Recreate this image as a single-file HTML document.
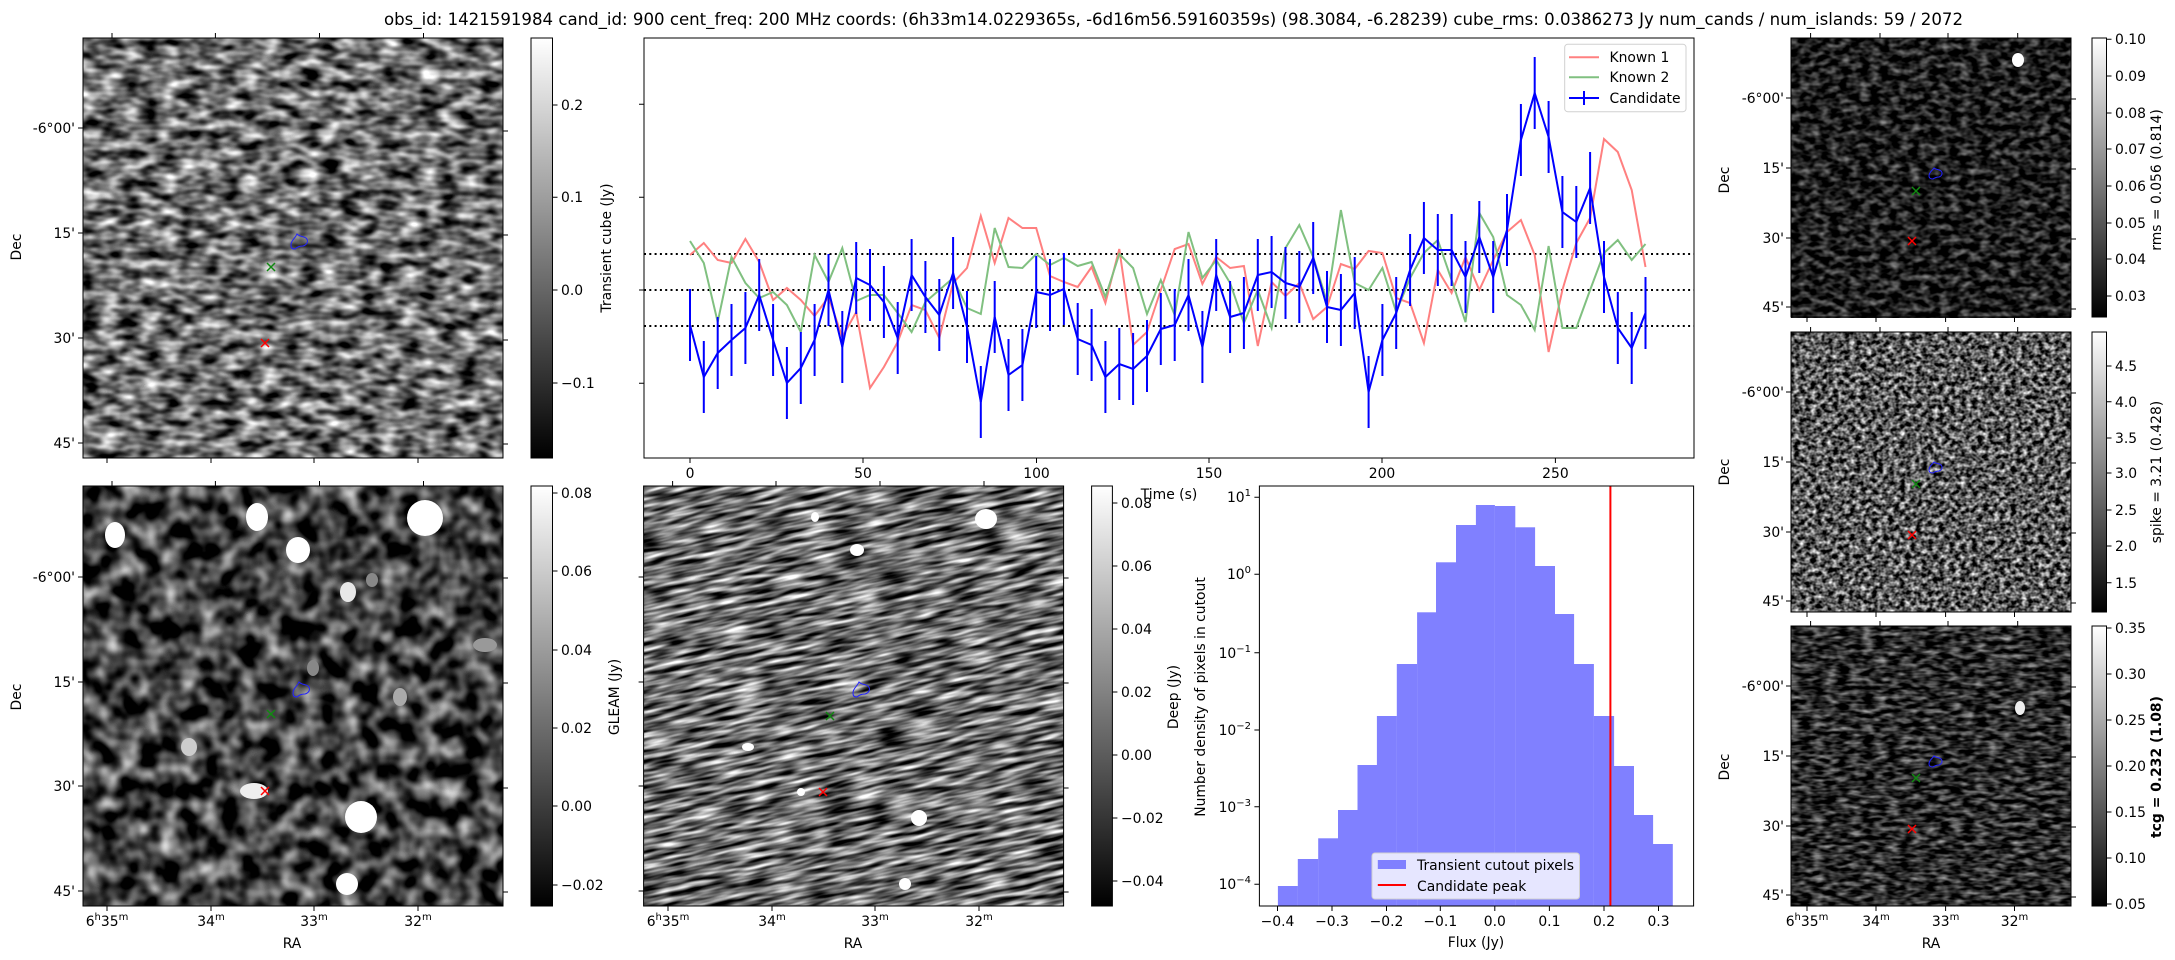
<!DOCTYPE html>
<html><head><meta charset="utf-8"><style>
html,body{margin:0;padding:0;background:#fff;width:2175px;height:960px;overflow:hidden;}
svg{display:block;font-family:"DejaVu Sans","Liberation Sans",sans-serif;}
.t{font-size:13.9px;fill:#000;}
filter{color-interpolation-filters:sRGB;}
</style></head><body>
<svg width="2175" height="960" viewBox="0 0 2175 960" xmlns="http://www.w3.org/2000/svg">
<defs>
<linearGradient id="cb" x1="0" y1="1" x2="0" y2="0"><stop offset="0" stop-color="#000"/><stop offset="1" stop-color="#fff"/></linearGradient>
<filter id="fTL" color-interpolation-filters="sRGB" x="83" y="38" width="420" height="420" filterUnits="userSpaceOnUse"><feTurbulence type="fractalNoise" baseFrequency="0.05 0.1" numOctaves="2" seed="3"/><feColorMatrix type="matrix" values="1.7 0 0 0 -0.42  1.7 0 0 0 -0.42  1.7 0 0 0 -0.42  0 0 0 0 1"/></filter>
<filter id="fGL" color-interpolation-filters="sRGB" x="83" y="486" width="420" height="420" filterUnits="userSpaceOnUse"><feTurbulence type="fractalNoise" baseFrequency="0.05" numOctaves="2" seed="7"/><feColorMatrix type="matrix" values="1.6 0 0 0 -0.55  1.6 0 0 0 -0.55  1.6 0 0 0 -0.55  0 0 0 0 1"/></filter>
<filter id="fDP" color-interpolation-filters="sRGB" x="500" y="300" width="700" height="800" filterUnits="userSpaceOnUse"><feTurbulence type="fractalNoise" baseFrequency="0.03 0.2" numOctaves="2" seed="11"/><feColorMatrix type="matrix" values="1.8 0 0 0 -0.47  1.8 0 0 0 -0.47  1.8 0 0 0 -0.47  0 0 0 0 1"/></filter>
<filter id="fP1" color-interpolation-filters="sRGB" x="1791" y="38" width="280" height="280" filterUnits="userSpaceOnUse"><feTurbulence type="fractalNoise" baseFrequency="0.1 0.16" numOctaves="2" seed="5"/><feColorMatrix type="matrix" values="1 0 0 0 -0.38  1 0 0 0 -0.38  1 0 0 0 -0.38  0 0 0 0 1"/></filter>
<filter id="fP2" color-interpolation-filters="sRGB" x="1791" y="332" width="280" height="280" filterUnits="userSpaceOnUse"><feTurbulence type="fractalNoise" baseFrequency="0.18 0.22" numOctaves="2" seed="9"/><feColorMatrix type="matrix" values="1.8 0 0 0 -0.55  1.8 0 0 0 -0.55  1.8 0 0 0 -0.55  0 0 0 0 1"/></filter>
<filter id="fP3" color-interpolation-filters="sRGB" x="1791" y="626" width="280" height="280" filterUnits="userSpaceOnUse"><feTurbulence type="fractalNoise" baseFrequency="0.08 0.22" numOctaves="2" seed="13"/><feColorMatrix type="matrix" values="1.2 0 0 0 -0.43  1.2 0 0 0 -0.43  1.2 0 0 0 -0.43  0 0 0 0 1"/></filter>
<clipPath id="cDP"><rect x="643.6" y="486" width="420" height="420"/></clipPath>
<clipPath id="cGL"><rect x="83" y="486" width="420" height="420"/></clipPath>
</defs>

<text x="1173.5" y="25" text-anchor="middle" font-size="16.7" textLength="1579" lengthAdjust="spacingAndGlyphs">obs_id: 1421591984 cand_id: 900 cent_freq: 200 MHz coords: (6h33m14.0229365s, -6d16m56.59160359s) (98.3084, -6.28239) cube_rms: 0.0386273 Jy num_cands / num_islands: 59 / 2072</text>

<!-- Top-left -->
<rect x="83" y="38" width="420" height="420" fill="#777" filter="url(#fTL)"/>
<rect x="83" y="38" width="420" height="420" fill="none" stroke="#000" stroke-width="1"/>
<path d="M112 38v-5M215.4 38v-5M319.5 38v-5M423.5 38v-5M107 458v5M211 458v5M314 458v5M418 458v5M83 128h-5M83 233h-5M83 338h-5M83 443h-5M503 131h5M503 235h5M503 340h5M503 444h5" stroke="#000"/>
<g class="t" text-anchor="end"><text x="75" y="133">-6°00'</text><text x="75" y="238">15'</text><text x="75" y="343">30'</text><text x="75" y="448">45'</text></g>
<text class="t" transform="translate(21,247) rotate(-90)" text-anchor="middle">Dec</text>
<path d="M291 245c0-5 4-6 6-11c3 3 6 2 9 4c3 3 1 7-3 8c-3 0-6 1-8 3c-3 0-4-1-4-4z" fill="none" stroke="#2222ff" stroke-width="1"/>
<path d="M267 263l8 8M275 263l-8 8" stroke="#118811" stroke-width="1.5"/>
<path d="M261 339l8 8M269 339l-8 8" stroke="#ff0000" stroke-width="1.5"/>
<rect x="531" y="38" width="21.5" height="420" fill="url(#cb)" stroke="#000" stroke-width="1"/>
<path d="M552.5 105h5M552.5 197.3h5M552.5 290h5M552.5 383h5" stroke="#000"/>
<g class="t"><text x="561" y="110">0.2</text><text x="561" y="202">0.1</text><text x="561" y="295">0.0</text><text x="561" y="388">−0.1</text></g>
<text class="t" transform="translate(611,248) rotate(-90)" text-anchor="middle">Transient cube (Jy)</text>

<!-- Light curve -->
<rect x="644" y="38" width="1050" height="420" fill="#fff" stroke="#000" stroke-width="1"/>
<path d="M644 104.3h-5M644 197.3h-5M644 290h-5M644 383.3h-5" stroke="#000"/>
<path d="M690 458v5M863 458v5M1036.5 458v5M1209 458v5M1382 458v5M1555.4 458v5" stroke="#000"/>
<g class="t" text-anchor="middle"><text x="690" y="478">0</text><text x="863" y="478">50</text><text x="1036.5" y="478">100</text><text x="1209" y="478">150</text><text x="1382" y="478">200</text><text x="1555.4" y="478">250</text></g>
<g stroke="#000" stroke-width="2" stroke-dasharray="2,3.3"><path d="M644 254h1050M644 290h1050M644 326h1050"/></g>
<polyline fill="none" stroke="#ff8080" stroke-width="2" points="690,255 703.8,243 717.7,260 731.5,263 745.4,239 759.2,262 773.1,300 786.9,288 800.8,300 814.6,316 828.5,297 842.3,337 856.2,312 870,388 883.9,367 897.7,342 911.6,305 925.4,310 939.3,338 953.1,283 967,268 980.8,216 994.7,263 1008.5,218 1022.4,228 1036.2,228 1050,276 1063.9,282 1077.7,287 1091.6,267 1105.4,303 1119.3,249 1133.1,345 1147,332 1160.8,290 1174.7,249 1188.5,244 1202.4,284 1216.2,257 1230.1,268 1243.9,266 1257.8,346 1271.6,282 1285.5,296 1299.3,283 1313.2,319 1327,307 1340.9,264 1354.7,269 1368.6,251 1382.4,253 1396.2,298 1410.1,303 1423.9,343 1437.8,270 1451.6,293 1465.5,257 1479.3,290 1493.2,260 1507,232 1520.9,220 1534.7,255 1548.6,352 1562.4,290 1576.3,243 1590.1,218 1604,139 1617.8,152 1631.7,190 1645.5,267"/>
<polyline fill="none" stroke="#80c080" stroke-width="2" points="690,241 703.8,263 717.7,322 731.5,257 745.4,283 759.2,298 773.1,292 786.9,305 800.8,332 814.6,255 828.5,282 842.3,248 856.2,301 870,295 883.9,295 897.7,313 911.6,332 925.4,302 939.3,290 953.1,278 967,308 980.8,314 994.7,228 1008.5,267 1022.4,268 1036.2,254 1050,265 1063.9,258 1077.7,266 1091.6,262 1105.4,297 1119.3,254 1133.1,268 1147,314 1160.8,280 1174.7,315 1188.5,232 1202.4,278 1216.2,260 1230.1,283 1243.9,323 1257.8,290 1271.6,328 1285.5,248 1299.3,225 1313.2,257 1327,302 1340.9,210 1354.7,283 1368.6,290 1382.4,268 1396.2,312 1410.1,278 1423.9,253 1437.8,240 1451.6,280 1465.5,322 1479.3,213 1493.2,237 1507,295 1520.9,305 1534.7,330 1548.6,246 1562.4,328 1576.3,328 1590.1,290 1604,253 1617.8,240 1631.7,260 1645.5,244"/>
<polyline fill="none" stroke="#0000ff" stroke-width="2" points="690,325 703.8,377 717.7,353 731.5,340 745.4,328 759.2,295 773.1,340 786.9,383 800.8,368 814.6,340 828.5,290 842.3,347 856.2,278 870,285 883.9,302 897.7,338 911.6,275 925.4,297 939.3,315 953.1,273 967,327 980.8,402 994.7,317 1008.5,375 1022.4,365 1036.2,292 1050,295 1063.9,289 1077.7,339 1091.6,345 1105.4,377 1119.3,364 1133.1,369 1147,356 1160.8,329 1174.7,325 1188.5,295 1202.4,347 1216.2,275 1230.1,317 1243.9,313 1257.8,275 1271.6,272 1285.5,283 1299.3,287 1313.2,258 1327,307 1340.9,310 1354.7,293 1368.6,392 1382.4,340 1396.2,313 1410.1,270 1423.9,238 1437.8,250 1451.6,250 1465.5,277 1479.3,237 1493.2,277 1507,230 1520.9,140 1534.7,93 1548.6,137 1562.4,212 1576.3,222 1590.1,188 1604,277 1617.8,328 1631.7,348 1645.5,313"/>
<path fill="none" stroke="#0000ff" stroke-width="2" d="M690 289v72M703.8 341v72M717.7 317v72M731.5 304v72M745.4 292v72M759.2 259v72M773.1 304v72M786.9 347v72M800.8 332v72M814.6 304v72M828.5 254v72M842.3 311v72M856.2 242v72M870 249v72M883.9 266v72M897.7 302v72M911.6 239v72M925.4 261v72M939.3 279v72M953.1 237v72M967 291v72M980.8 366v72M994.7 281v72M1008.5 339v72M1022.4 329v72M1036.2 256v72M1050 259v72M1063.9 253v72M1077.7 303v72M1091.6 309v72M1105.4 341v72M1119.3 328v72M1133.1 333v72M1147 320v72M1160.8 293v72M1174.7 289v72M1188.5 259v72M1202.4 311v72M1216.2 239v72M1230.1 281v72M1243.9 277v72M1257.8 239v72M1271.6 236v72M1285.5 247v72M1299.3 251v72M1313.2 222v72M1327 271v72M1340.9 274v72M1354.7 257v72M1368.6 356v72M1382.4 304v72M1396.2 277v72M1410.1 234v72M1423.9 202v72M1437.8 214v72M1451.6 214v72M1465.5 241v72M1479.3 201v72M1493.2 241v72M1507 194v72M1520.9 104v72M1534.7 57v72M1548.6 101v72M1562.4 176v72M1576.3 186v72M1590.1 152v72M1604 241v72M1617.8 292v72M1631.7 312v72M1645.5 277v72"/>
<rect x="1564.7" y="44.3" width="121.3" height="67.4" rx="3" fill="#fff" fill-opacity="0.8" stroke="#d0d0d0"/>
<path d="M1569 57.3h30" stroke="#ff8080" stroke-width="2"/>
<path d="M1569 77.3h30" stroke="#80c080" stroke-width="2"/>
<path d="M1569 98h30M1584 91v14" stroke="#0000ff" stroke-width="2"/>
<g class="t"><text x="1609.5" y="62">Known 1</text><text x="1609.5" y="82">Known 2</text><text x="1609.5" y="103">Candidate</text></g>

<!-- GLEAM -->
<rect x="83" y="486" width="420" height="420" fill="#444" filter="url(#fGL)"/>
<g clip-path="url(#cGL)" fill="#fff">
<ellipse cx="115" cy="535" rx="10" ry="13"/><ellipse cx="257" cy="517" rx="11" ry="14"/><ellipse cx="298" cy="550" rx="12" ry="13"/><ellipse cx="425" cy="518" rx="18" ry="18"/><ellipse cx="348" cy="592" rx="8" ry="10" fill="#e8e8e8"/><ellipse cx="361" cy="817" rx="16" ry="16"/><ellipse cx="347" cy="884" rx="11" ry="11"/><ellipse cx="189" cy="747" rx="8" ry="9" fill="#ccc"/><ellipse cx="254" cy="791" rx="14" ry="8" fill="#eee"/><ellipse cx="485" cy="645" rx="12" ry="7" fill="#999"/><ellipse cx="400" cy="697" rx="7" ry="9" fill="#aaa"/><ellipse cx="313" cy="668" rx="6" ry="8" fill="#888"/><ellipse cx="372" cy="580" rx="6" ry="7" fill="#888"/>
</g>
<rect x="83" y="486" width="420" height="420" fill="none" stroke="#000"/>
<path d="M112 486v-5M215.4 486v-5M319.5 486v-5M423.5 486v-5M107 906v5M211 906v5M314 906v5M418 906v5M83 577h-5M83 682h-5M83 786h-5M83 891h-5M503 578h5M503 683h5M503 788h5M503 892h5" stroke="#000"/>
<g class="t" text-anchor="end"><text x="75" y="582">-6°00'</text><text x="75" y="687">15'</text><text x="75" y="791">30'</text><text x="75" y="896">45'</text></g>
<text class="t" transform="translate(21,697) rotate(-90)" text-anchor="middle">Dec</text>
<g class="t" text-anchor="middle">
<text x="107" y="926">6<tspan font-size="10" dy="-6">h</tspan><tspan dy="6">35</tspan><tspan font-size="10" dy="-6">m</tspan></text>
<text x="211" y="926">34<tspan font-size="10" dy="-6">m</tspan></text>
<text x="314" y="926">33<tspan font-size="10" dy="-6">m</tspan></text>
<text x="418" y="926">32<tspan font-size="10" dy="-6">m</tspan></text>
<text x="292" y="948">RA</text></g>
<path d="M293 693c0-5 4-6 6-11c3 3 6 2 9 4c3 3 1 7-3 8c-3 0-6 1-8 3c-3 0-4-1-4-4z" fill="none" stroke="#2222ff"/>
<path d="M267 710l8 8M275 710l-8 8" stroke="#118811" stroke-width="1.5"/>
<path d="M261 787l8 8M269 787l-8 8" stroke="#ff0000" stroke-width="1.5"/>
<rect x="531" y="486" width="21.5" height="420" fill="url(#cb)" stroke="#000"/>
<path d="M552.5 493h5M552.5 571h5M552.5 650h5M552.5 728h5M552.5 806h5M552.5 885h5" stroke="#000"/>
<g class="t"><text x="561" y="498">0.08</text><text x="561" y="576">0.06</text><text x="561" y="655">0.04</text><text x="561" y="733">0.02</text><text x="561" y="811">0.00</text><text x="561" y="890">−0.02</text></g>
<text class="t" transform="translate(619,697) rotate(-90)" text-anchor="middle">GLEAM (Jy)</text>

<!-- Deep -->
<g clip-path="url(#cDP)">
<rect x="643.6" y="486" width="420" height="420" fill="#777"/>
<g transform="rotate(-12 853.6 696)"><rect x="500" y="300" width="700" height="800" fill="#777" filter="url(#fDP)"/></g>
<g fill="#fff"><ellipse cx="986" cy="519" rx="11" ry="10"/><ellipse cx="857" cy="550" rx="7" ry="6"/><ellipse cx="815" cy="517" rx="4" ry="5"/><ellipse cx="919" cy="818" rx="8" ry="8"/><ellipse cx="905" cy="884" rx="6" ry="6"/><ellipse cx="801" cy="792" rx="4" ry="4"/><ellipse cx="748" cy="747" rx="6" ry="4"/></g>
</g>
<rect x="643.6" y="486" width="420" height="420" fill="none" stroke="#000"/>
<path d="M672.6 486v-5M776 486v-5M880 486v-5M984 486v-5M668 906v5M772 906v5M875 906v5M979 906v5M643.6 577h-5M643.6 682h-5M643.6 786h-5M643.6 891h-5M1063.6 578h5M1063.6 683h5M1063.6 788h5M1063.6 892h5" stroke="#000"/>
<g class="t" text-anchor="middle">
<text x="668" y="926">6<tspan font-size="10" dy="-6">h</tspan><tspan dy="6">35</tspan><tspan font-size="10" dy="-6">m</tspan></text>
<text x="772" y="926">34<tspan font-size="10" dy="-6">m</tspan></text>
<text x="875" y="926">33<tspan font-size="10" dy="-6">m</tspan></text>
<text x="979" y="926">32<tspan font-size="10" dy="-6">m</tspan></text>
<text x="853" y="948">RA</text></g>
<path d="M853 693c0-5 4-6 6-11c3 3 6 2 9 4c3 3 1 7-3 8c-3 0-6 1-8 3c-3 0-4-1-4-4z" fill="none" stroke="#2222ff"/>
<path d="M826 712l8 8M834 712l-8 8" stroke="#118811" stroke-width="1.5"/>
<path d="M819 788l8 8M827 788l-8 8" stroke="#ff0000" stroke-width="1.5"/>
<rect x="1091.6" y="486" width="20.8" height="420" fill="url(#cb)" stroke="#000"/>
<path d="M1112.4 503h5M1112.4 566h5M1112.4 629h5M1112.4 692h5M1112.4 755h5M1112.4 818h5M1112.4 881h5" stroke="#000"/>
<g class="t"><text x="1121" y="508">0.08</text><text x="1121" y="571">0.06</text><text x="1121" y="634">0.04</text><text x="1121" y="697">0.02</text><text x="1121" y="760">0.00</text><text x="1121" y="823">−0.02</text><text x="1121" y="886">−0.04</text></g>
<text class="t" transform="translate(1178,697) rotate(-90)" text-anchor="middle">Deep (Jy)</text>
<text class="t" x="1169" y="499" text-anchor="middle">Time (s)</text>

<!-- Histogram -->
<g fill="#8080ff">
<rect x="1277.9" y="886" width="20" height="20"/><rect x="1297.8" y="859" width="20.5" height="47"/><rect x="1318.2" y="838.3" width="20" height="67.7"/><rect x="1338" y="810" width="19.6" height="96"/><rect x="1357.5" y="765" width="19.5" height="141"/><rect x="1376.9" y="716" width="20" height="190"/><rect x="1396.8" y="664" width="20.4" height="242"/><rect x="1417.1" y="612.3" width="19" height="293.7"/><rect x="1436" y="562.3" width="20.1" height="343.7"/><rect x="1456" y="525" width="20" height="381"/><rect x="1475.9" y="505" width="19" height="401"/><rect x="1494.8" y="506" width="20.5" height="400"/><rect x="1515.2" y="527.3" width="19.9" height="378.7"/><rect x="1535" y="566" width="20" height="340"/><rect x="1555" y="614" width="19.1" height="292"/><rect x="1574" y="664" width="19.9" height="242"/><rect x="1593.8" y="716" width="20.3" height="190"/><rect x="1614" y="766" width="20" height="140"/><rect x="1634" y="815" width="19.1" height="91"/><rect x="1653" y="844" width="19.8" height="62"/>
</g>
<path d="M1610.4 486V906" stroke="#ff0000" stroke-width="2"/>
<rect x="1259.4" y="486" width="434.2" height="420" fill="none" stroke="#000"/>
<path d="M1277.5 906v5M1332 906v5M1386.5 906v5M1440.3 906v5M1494.8 906v5M1549.4 906v5M1604 906v5M1658.5 906v5M1259.4 497.3h-5M1259.4 574.3h-5M1259.4 652.7h-5M1259.4 730h-5M1259.4 806.7h-5M1259.4 884.3h-5" stroke="#000"/>
<g class="t" text-anchor="middle"><text x="1277.5" y="926">−0.4</text><text x="1332" y="926">−0.3</text><text x="1386.5" y="926">−0.2</text><text x="1440.3" y="926">−0.1</text><text x="1494.8" y="926">0.0</text><text x="1549.4" y="926">0.1</text><text x="1604" y="926">0.2</text><text x="1658.5" y="926">0.3</text><text x="1476" y="947">Flux (Jy)</text></g>
<g class="t" text-anchor="end">
<text x="1251" y="502">10<tspan font-size="10" dy="-6">1</tspan></text>
<text x="1251" y="579">10<tspan font-size="10" dy="-6">0</tspan></text>
<text x="1251" y="658">10<tspan font-size="10" dy="-6">−1</tspan></text>
<text x="1251" y="735">10<tspan font-size="10" dy="-6">−2</tspan></text>
<text x="1251" y="812">10<tspan font-size="10" dy="-6">−3</tspan></text>
<text x="1251" y="889">10<tspan font-size="10" dy="-6">−4</tspan></text>
</g>
<text class="t" transform="translate(1205,697) rotate(-90)" text-anchor="middle">Number density of pixels in cutout</text>
<rect x="1372" y="853" width="207.5" height="46" rx="3" fill="#e6e6ff" stroke="#d0d0d0"/>
<rect x="1377.8" y="860" width="28.2" height="9" fill="#8080ff"/>
<path d="M1377.8 885h28.2" stroke="#ff0000" stroke-width="2"/>
<g class="t"><text x="1417" y="870">Transient cutout pixels</text><text x="1417" y="891">Candidate peak</text></g>

<!-- Right column -->
<rect x="1791" y="38" width="280" height="279" fill="#333" filter="url(#fP1)"/>
<ellipse cx="2018" cy="60" rx="6" ry="7" fill="#fff"/>
<rect x="1791" y="38" width="280" height="279" fill="none" stroke="#000"/>
<rect x="1791" y="332" width="280" height="280" fill="#555" filter="url(#fP2)"/>
<rect x="1791" y="332" width="280" height="280" fill="none" stroke="#000"/>
<rect x="1791" y="626" width="280" height="280" fill="#333" filter="url(#fP3)"/>
<ellipse cx="2020" cy="708" rx="5" ry="7" fill="#eee"/>
<rect x="1791" y="626" width="280" height="280" fill="none" stroke="#000"/>
<g stroke="#000">
<path d="M1810.6 38v-5M1880 38v-5M1948 38v-5M2017.7 38v-5M1807 317v5M1876 317v5M1945.6 317v5M2014.5 317v5M1791 98h-5M1791 168h-5M1791 238h-5M1791 307h-5M2071 99h5M2071 169h5M2071 239h5M2071 309h5"/>
<path d="M1810.6 332v-5M1880 332v-5M1948 332v-5M2017.7 332v-5M1807 612v5M1876 612v5M1945.6 612v5M2014.5 612v5M1791 392h-5M1791 462h-5M1791 532h-5M1791 601h-5M2071 393h5M2071 463h5M2071 533h5M2071 603h5"/>
<path d="M1810.6 626v-5M1880 626v-5M1948 626v-5M2017.7 626v-5M1807 906v5M1876 906v5M1945.6 906v5M2014.5 906v5M1791 686h-5M1791 756h-5M1791 826h-5M1791 895h-5M2071 687h5M2071 757h5M2071 827h5M2071 897h5"/>
</g>
<g class="t" text-anchor="end">
<text x="1784" y="103">-6°00'</text><text x="1784" y="173">15'</text><text x="1784" y="243">30'</text><text x="1784" y="312">45'</text>
<text x="1784" y="397">-6°00'</text><text x="1784" y="467">15'</text><text x="1784" y="537">30'</text><text x="1784" y="606">45'</text>
<text x="1784" y="691">-6°00'</text><text x="1784" y="761">15'</text><text x="1784" y="831">30'</text><text x="1784" y="900">45'</text>
</g>
<text class="t" transform="translate(1729,180) rotate(-90)" text-anchor="middle">Dec</text>
<text class="t" transform="translate(1729,472) rotate(-90)" text-anchor="middle">Dec</text>
<text class="t" transform="translate(1729,767) rotate(-90)" text-anchor="middle">Dec</text>
<g class="t" text-anchor="middle">
<text x="1807" y="926">6<tspan font-size="10" dy="-6">h</tspan><tspan dy="6">35</tspan><tspan font-size="10" dy="-6">m</tspan></text>
<text x="1876" y="926">34<tspan font-size="10" dy="-6">m</tspan></text>
<text x="1945.6" y="926">33<tspan font-size="10" dy="-6">m</tspan></text>
<text x="2014.5" y="926">32<tspan font-size="10" dy="-6">m</tspan></text>
<text x="1931" y="948">RA</text></g>
<g fill="none" stroke="#2222ff">
<path d="M1929 176c0-4 3-5 5-8c2 2 5 1 7 3c2 2 1 5-2 6c-2 0-5 1-6 2c-3 0-4-1-4-3z"/>
<path d="M1929 470c0-4 3-5 5-8c2 2 5 1 7 3c2 2 1 5-2 6c-2 0-5 1-6 2c-3 0-4-1-4-3z"/>
<path d="M1929 764c0-4 3-5 5-8c2 2 5 1 7 3c2 2 1 5-2 6c-2 0-5 1-6 2c-3 0-4-1-4-3z"/>
</g>
<g stroke="#118811" stroke-width="1.5"><path d="M1912 187l8 8M1920 187l-8 8M1912 480l8 8M1920 480l-8 8M1912 774l8 8M1920 774l-8 8"/></g>
<g stroke="#ff0000" stroke-width="1.5"><path d="M1908 237l8 8M1916 237l-8 8M1908 531l8 8M1916 531l-8 8M1908 825l8 8M1916 825l-8 8"/></g>
<rect x="2092" y="38" width="14.5" height="279" fill="url(#cb)" stroke="#000"/>
<rect x="2092" y="332" width="14.5" height="280" fill="url(#cb)" stroke="#000"/>
<rect x="2092" y="626" width="14.5" height="280" fill="url(#cb)" stroke="#000"/>
<g stroke="#000"><path d="M2106.5 39.3h5M2106.5 76h5M2106.5 113h5M2106.5 149h5M2106.5 186h5M2106.5 223h5M2106.5 259h5M2106.5 296h5M2106.5 366h5M2106.5 401.7h5M2106.5 438h5M2106.5 473h5M2106.5 510h5M2106.5 546h5M2106.5 582.7h5M2106.5 628h5M2106.5 674h5M2106.5 720h5M2106.5 766h5M2106.5 812h5M2106.5 858h5M2106.5 904h5"/></g>
<g class="t">
<text x="2115" y="44">0.10</text><text x="2115" y="81">0.09</text><text x="2115" y="118">0.08</text><text x="2115" y="154">0.07</text><text x="2115" y="191">0.06</text><text x="2115" y="228">0.05</text><text x="2115" y="264">0.04</text><text x="2115" y="301">0.03</text>
<text x="2115" y="371">4.5</text><text x="2115" y="407">4.0</text><text x="2115" y="443">3.5</text><text x="2115" y="478">3.0</text><text x="2115" y="515">2.5</text><text x="2115" y="551">2.0</text><text x="2115" y="588">1.5</text>
<text x="2115" y="633">0.35</text><text x="2115" y="679">0.30</text><text x="2115" y="725">0.25</text><text x="2115" y="771">0.20</text><text x="2115" y="817">0.15</text><text x="2115" y="863">0.10</text><text x="2115" y="909">0.05</text>
</g>
<text class="t" transform="translate(2161,180) rotate(-90)" text-anchor="middle">rms = 0.056 (0.814)</text>
<text class="t" transform="translate(2161,472) rotate(-90)" text-anchor="middle">spike = 3.21 (0.428)</text>
<text class="t" transform="translate(2161,767) rotate(-90)" text-anchor="middle" font-weight="bold">tcg = 0.232 (1.08)</text>
</svg>
</body></html>
